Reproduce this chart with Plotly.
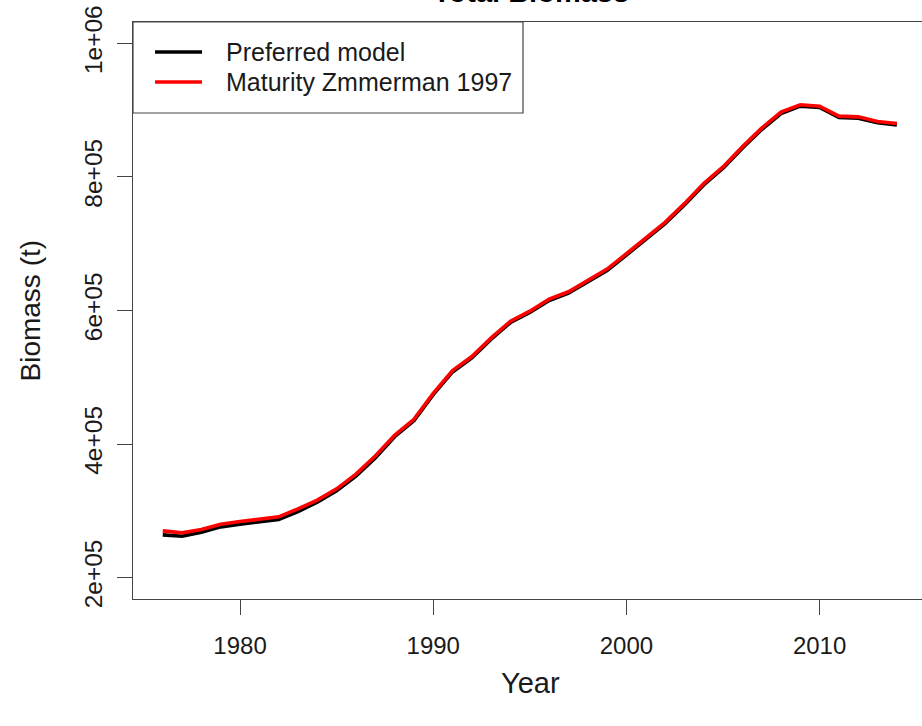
import plotly.graph_objects as go

# Survey years and total biomass estimates (tonnes)
years = list(range(1976, 2015))

preferred_model = [
    264000, 262000, 268000, 276000, 280000, 283000, 287000, 299000, 313000, 330000,
    352000, 379000, 411000, 435000, 474000, 508000, 529000, 557000, 582000, 597000,
    615000, 626000, 643000, 660000, 683000, 707000, 730000, 758000, 788000, 813000,
    843000, 871000, 895000, 906000, 904000, 889000, 888000, 881000, 878000,
]

maturity_zimmerman = [
    270000, 267000, 272000, 280000, 284000, 287000, 291000, 303000, 316000, 333000,
    355000, 382000, 413000, 437000, 476000, 510000, 531000, 559000, 584000, 599000,
    617000, 628000, 645000, 662000, 685000, 709000, 732000, 760000, 790000, 815000,
    845000, 873000, 897000, 908000, 906000, 891000, 890000, 883000, 880000,
]

series_names = ["Preferred model", "Maturity Zmmerman 1997"]
series_colors = ["#000000", "#ff0000"]

x_tick_vals = [1980, 1990, 2000, 2010]
y_tick_vals = [200000, 400000, 600000, 800000, 1000000]
y_tick_text = ["2e+05", "4e+05", "6e+05", "8e+05", "1e+06"]

FONT = "Liberation Sans, Arial, Helvetica, sans-serif"
INK = "#1a1a1a"
BOX = "#444444"

fig = go.Figure()
for name, vals, col in zip(series_names, [preferred_model, maturity_zimmerman], series_colors):
    fig.add_trace(go.Scatter(
        x=years, y=vals, mode="lines", name=name,
        line=dict(color=col, width=3.6), showlegend=False,
    ))

# Boxed key in the top-left corner of the panel (paper coordinates)
key_box = dict(x0=0.0, x1=0.4943, y0=0.8423, y1=1.0)
key_line_x = (0.0279, 0.0875)
key_text_x = 0.1153
key_rows_y = [0.948, 0.896]

shapes = [dict(type="rect", xref="paper", yref="paper", line=dict(color=BOX, width=1.2),
               fillcolor="white", layer="above", **key_box)]
annotations = []
for name, col, ky in zip(series_names, series_colors, key_rows_y):
    shapes.append(dict(type="line", xref="paper", yref="paper", layer="above",
                       x0=key_line_x[0], x1=key_line_x[1], y0=ky, y1=ky,
                       line=dict(color=col, width=3.6)))
    annotations.append(dict(text=name, xref="paper", yref="paper", x=key_text_x, y=ky,
                            xanchor="left", yanchor="middle", showarrow=False,
                            font=dict(size=25, family=FONT, color=INK)))

annotations += [
    dict(text="<b>Total Biomass</b>", xref="paper", yref="paper", x=0.504, y=1,
         xanchor="center", yanchor="bottom", yshift=12, showarrow=False,
         font=dict(size=29, family=FONT, color="#000000")),
    dict(text="Year", xref="paper", yref="paper", x=0.504, y=0,
         xanchor="center", yanchor="middle", yshift=-84, showarrow=False,
         font=dict(size=29, family=FONT, color=INK)),
    dict(text="Biomass (t)", xref="paper", yref="paper", x=0, y=0.5,
         xanchor="center", yanchor="middle", xshift=-103, textangle=-90,
         showarrow=False, font=dict(size=28, family=FONT, color=INK)),
]

fig.update_layout(
    width=922, height=726,
    margin=dict(l=133, r=0, t=22, b=127),
    paper_bgcolor="white", plot_bgcolor="white",
    font=dict(family=FONT, color=INK),
    showlegend=False,
    xaxis=dict(
        range=[1974.46, 2015.30], tickvals=x_tick_vals,
        showgrid=False, zeroline=False,
        showline=True, linecolor=BOX, linewidth=1.2, mirror=True,
        ticks="outside", ticklen=15, tickcolor=BOX, tickwidth=1.2,
        ticklabelstandoff=10,
        tickfont=dict(size=24, family=FONT, color=INK),
    ),
    yaxis=dict(
        range=[168000, 1032000], tickvals=y_tick_vals, ticktext=y_tick_text,
        tickangle=-90,
        showgrid=False, zeroline=False,
        showline=True, linecolor=BOX, linewidth=1.2,
        ticks="outside", ticklen=15, tickcolor=BOX, tickwidth=1.2,
        ticklabelstandoff=5,
        tickfont=dict(size=24.5, family=FONT, color=INK),
    ),
    shapes=shapes,
    annotations=annotations,
)

fig.write_html("out.html")
